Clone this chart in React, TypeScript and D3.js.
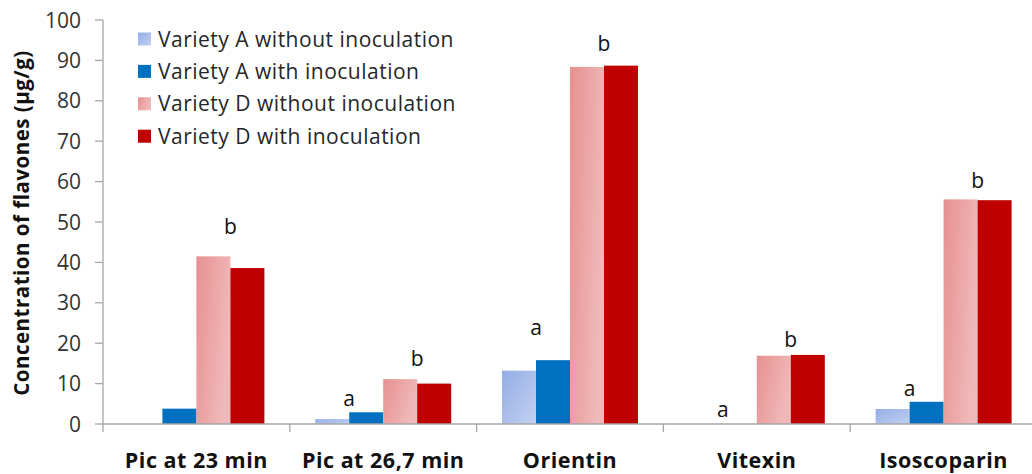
import React from "react";
import * as d3 from "d3";

const categories = ["Pic at 23 min", "Pic at 26,7 min", "Orientin", "Vitexin", "Isoscoparin"];
const seriesNames = [
  "Variety A without inoculation",
  "Variety A with inoculation",
  "Variety D without inoculation",
  "Variety D with inoculation",
];
const varietyANoInoc = [0, 1.2, 13.2, 0, 3.7];
const varietyAInoc = [3.8, 2.9, 15.8, 0, 5.5];
const varietyDNoInoc = [41.5, 11.1, 88.4, 16.9, 55.6];
const varietyDInoc = [38.6, 10.0, 88.7, 17.1, 55.4];
const yTicks = [0, 10, 20, 30, 40, 50, 60, 70, 80, 90, 100];
// significance letters: category index, pair ("A" or "D"), letter, vertical level (value units)
const letterCats = [0, 1, 1, 2, 2, 3, 3, 4, 4];
const letterPairs = ["D", "A", "D", "A", "D", "A", "D", "A", "D"];
const letterTexts = ["b", "a", "b", "a", "b", "a", "b", "a", "b"];
const letterLevels = [48.8, 6.4, 16.3, 23.8, 94.1, 3.5, 21.0, 8.9, 60.4];

const seriesValues = [varietyANoInoc, varietyAInoc, varietyDNoInoc, varietyDInoc];
const fills = ["url(#gradA)", "#0070c0", "url(#gradD)", "#c00000"];
const swatch = ["#a9bfeb", "#0070c0", "#eba3a3", "#c00000"];

const W = 1032;
const H = 474;
const left = 103;
const catW = 186.8;
const FONT = "'Open Sans', Lato, sans-serif";

export default function App() {
  const x0 = d3.scaleBand<string>().domain(categories).range([left, left + catW * categories.length]).padding(0);
  const bw = x0.bandwidth();
  const x1 = d3.scaleBand<string>().domain(seriesNames).range([bw * 0.136, bw * 0.864]).padding(0);
  const y = d3.scaleLinear().domain([0, 100]).range([424, 20]);
  const axisColor = "#a6a6a6";

  return (
    <svg width={W} height={H} style={{ position: "absolute", left: 0, top: 0, background: "#fff" }}>
      <defs>
        <linearGradient id="gradA" x1="0" y1="0" x2="1" y2="1">
          <stop offset="0" stopColor="#93ade5" />
          <stop offset="1" stopColor="#c3d1f1" />
        </linearGradient>
        <linearGradient id="gradD" x1="0" y1="0" x2="1" y2="0.4">
          <stop offset="0" stopColor="#e79090" />
          <stop offset="1" stopColor="#f0b9b9" />
        </linearGradient>
      </defs>

      {/* bars */}
      {categories.map((c, ci) =>
        seriesNames.map((s, si) => {
          const v = seriesValues[si][ci];
          if (!v) return null;
          return (
            <rect
              key={c + s}
              x={(x0(c) as number) + (x1(s) as number)}
              y={y(v)}
              width={x1.bandwidth()}
              height={y(0) - y(v)}
              fill={fills[si]}
            />
          );
        })
      )}

      {/* y axis */}
      <line x1={left} x2={left} y1={y(100)} y2={432} stroke={axisColor} strokeWidth={1.3} />
      {yTicks.map((t) => (
        <g key={t}>
          <line x1={left - 8} x2={left} y1={y(t)} y2={y(t)} stroke={axisColor} strokeWidth={1.3} />
          <text
            x={81}
            y={y(t)}
            dy="0.36em"
            textAnchor="end"
            fontFamily={FONT}
            fontSize={21}
            fill="#333"
          >
            {t}
          </text>
        </g>
      ))}

      {/* x axis */}
      <line x1={left} x2={W} y1={y(0)} y2={y(0)} stroke={axisColor} strokeWidth={1.5} />
      {categories.slice(1).map((c) => (
        <line key={c} x1={x0(c)} x2={x0(c)} y1={y(0)} y2={432} stroke={axisColor} strokeWidth={1.3} />
      ))}
      {categories.map((c) => (
        <text
          key={c}
          x={(x0(c) as number) + bw / 2}
          y={468}
          textAnchor="middle"
          fontFamily={FONT}
          fontWeight="bold"
          fontSize={21.5}
          letterSpacing={0.5}
          fill="#111"
        >
          {c}
        </text>
      ))}

      {/* y title */}
      <text
        transform={`translate(29,${(y(0) + y(100)) / 2 + 1}) rotate(-90)`}
        textAnchor="middle"
        fontFamily={FONT}
        fontWeight="bold"
        fontSize={20.5}
        letterSpacing={0.5}
        fill="#111"
      >
        Concentration of flavones (µg/g)
      </text>

      {/* significance letters */}
      {letterTexts.map((l, i) => {
        const c = categories[letterCats[i]];
        const s = letterPairs[i] === "A" ? seriesNames[1] : seriesNames[3];
        return (
          <text
            key={i}
            x={(x0(c) as number) + (x1(s) as number)}
            y={y(letterLevels[i])}
            dy="0.36em"
            textAnchor="middle"
            fontFamily={FONT}
            fontSize={21}
            fill="#111"
          >
            {l}
          </text>
        );
      })}

      {/* legend */}
      {seriesNames.map((s, i) => (
        <g key={s} transform={`translate(138,${39 + i * 32.4})`}>
          <rect x={0} y={-6.5} width={13} height={13} fill={i === 0 ? "url(#gradA)" : i === 2 ? "url(#gradD)" : swatch[i]} />
          <text x={20} y={0} dy="0.36em" fontFamily={FONT} fontSize={21} letterSpacing={0.5} fill="#262626">
            {s}
          </text>
        </g>
      ))}
    </svg>
  );
}
